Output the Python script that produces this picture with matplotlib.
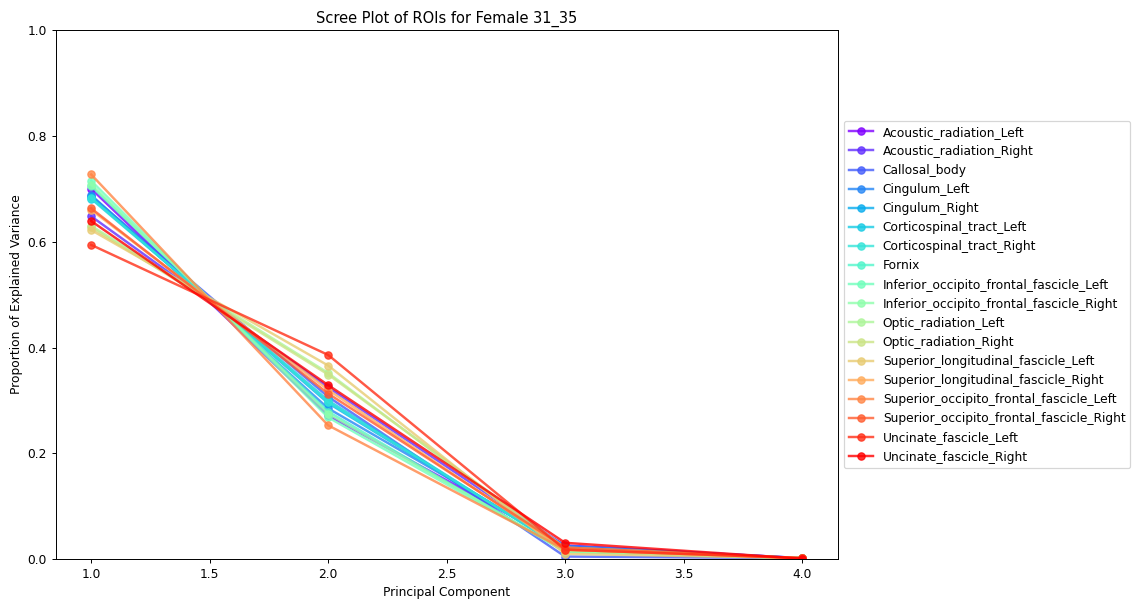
import matplotlib
matplotlib.use("Agg")
import matplotlib.pyplot as plt
import numpy as np

components = [1, 2, 3, 4]

roi_names = [
    "Acoustic_radiation_Left",
    "Acoustic_radiation_Right",
    "Callosal_body",
    "Cingulum_Left",
    "Cingulum_Right",
    "Corticospinal_tract_Left",
    "Corticospinal_tract_Right",
    "Fornix",
    "Inferior_occipito_frontal_fascicle_Left",
    "Inferior_occipito_frontal_fascicle_Right",
    "Optic_radiation_Left",
    "Optic_radiation_Right",
    "Superior_longitudinal_fascicle_Left",
    "Superior_longitudinal_fascicle_Right",
    "Superior_occipito_frontal_fascicle_Left",
    "Superior_occipito_frontal_fascicle_Right",
    "Uncinate_fascicle_Left",
    "Uncinate_fascicle_Right",
]

# explained variance ratio per ROI (PC1..PC4)
explained = [
    [0.700, 0.272, 0.026, 0.002],
    [0.648, 0.325, 0.025, 0.002],
    [0.686, 0.307, 0.005, 0.002],
    [0.688, 0.285, 0.025, 0.002],
    [0.684, 0.295, 0.019, 0.002],
    [0.681, 0.300, 0.017, 0.002],
    [0.683, 0.297, 0.018, 0.002],
    [0.705, 0.279, 0.014, 0.002],
    [0.715, 0.268, 0.015, 0.002],
    [0.708, 0.275, 0.015, 0.002],
    [0.630, 0.352, 0.016, 0.002],
    [0.627, 0.349, 0.022, 0.002],
    [0.622, 0.366, 0.010, 0.002],
    [0.660, 0.320, 0.018, 0.002],
    [0.727, 0.253, 0.018, 0.002],
    [0.663, 0.313, 0.022, 0.002],
    [0.594, 0.386, 0.018, 0.002],
    [0.639, 0.329, 0.031, 0.001],
]

colors = plt.cm.rainbow(np.linspace(0, 1, len(roi_names)))

DPI = 88
fig = plt.figure(figsize=(1135 / DPI, 600 / DPI), dpi=DPI)
ax = fig.add_axes([0.049, 0.068, 0.689, 0.882])

for name, vals, c in zip(roi_names, explained, colors):
    ax.plot(components, vals, marker="o", color=c, linewidth=2, alpha=0.8, label=name)

ax.set_ylim(0, 1)
ax.set_xlabel("Principal Component")
ax.set_ylabel("Proportion of Explained Variance")
ax.set_title("Scree Plot of ROIs for Female 31_35")
ax.legend(loc="center left", bbox_to_anchor=(1.0, 0.5))

fig.savefig("out.png", dpi=DPI)
